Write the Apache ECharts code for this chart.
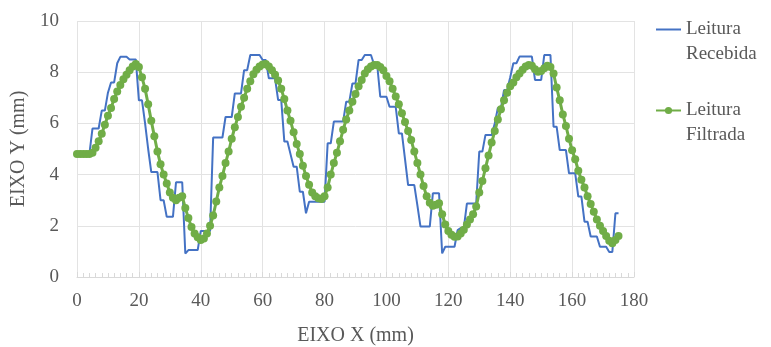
<!DOCTYPE html>
<html>
<head>
<meta charset="utf-8">
<script src="https://cdn.jsdelivr.net/npm/echarts@6/dist/echarts.min.js"></script>
<style>
html,body{margin:0;padding:0;background:#fff;}
#chart{width:771px;height:347px;}
</style>
</head>
<body>
<div id="chart"></div>
<script>
// X positions (mm)
const xValues = Array.from({length: 176}, (_, i) => i);

// Leitura Recebida (mm) at x = 0..175
const recebida = [
  4.8,4.8,4.8,4.8,4.8,5.8,5.8,5.8,6.5,6.5,
  7.2,7.6,7.6,8.35,8.6,8.6,8.6,8.5,8.5,8.5,
  6.9,6.9,6.0,5.0,4.1,4.1,4.1,3.0,3.0,2.35,
  2.35,2.35,3.7,3.7,3.7,0.92,1.05,1.05,1.05,1.05,
  1.8,1.8,1.8,1.8,5.45,5.45,5.45,5.45,6.25,6.25,
  6.25,7.17,7.17,7.17,8.08,8.08,8.67,8.67,8.67,8.67,
  8.48,8.48,7.76,7.76,7.76,6.91,6.91,5.29,5.29,4.8,
  4.31,4.31,3.33,3.33,2.49,2.94,2.94,2.94,2.94,2.94,
  2.94,5.22,5.22,6.07,6.07,6.07,6.07,6.85,6.85,7.56,
  7.56,8.48,8.48,8.67,8.67,8.67,8.3,8.3,7.04,7.04,
  7.04,6.65,6.65,6.65,5.61,5.61,4.6,3.59,3.59,3.59,
  2.8,1.97,1.97,1.97,1.97,3.27,3.27,3.27,0.92,1.18,
  1.18,1.18,1.18,1.83,1.91,1.91,2.87,2.87,2.87,2.87,
  4.9,4.9,5.55,5.55,5.55,6.0,6.6,6.6,7.3,7.3,
  7.8,8.35,8.35,8.61,8.61,8.61,8.61,8.61,7.7,7.7,
  7.7,8.67,8.67,8.67,5.87,5.87,4.96,4.96,4.96,4.05,
  4.05,4.05,3.14,3.14,2.16,2.16,1.58,1.58,1.58,1.18,
  1.18,1.18,0.98,0.98,2.49,2.49
];

// Leitura Filtrada (mm) at x = 0..175
const filtrada = [
  4.8,4.8,4.8,4.8,4.8,4.85,5.05,5.3,5.6,5.95,
  6.3,6.6,6.95,7.25,7.5,7.72,7.9,8.08,8.22,8.32,
  8.2,7.8,7.35,6.75,6.1,5.5,4.9,4.4,4.0,3.65,
  3.3,3.1,3.0,3.1,3.15,2.7,2.3,1.95,1.7,1.55,
  1.45,1.5,1.7,2.0,2.4,2.95,3.5,3.95,4.45,4.9,
  5.4,5.85,6.25,6.65,7.0,7.35,7.65,7.92,8.1,8.22,
  8.3,8.32,8.22,8.08,7.9,7.68,7.35,6.95,6.5,6.1,
  5.65,5.2,4.8,4.35,3.95,3.6,3.3,3.15,3.08,3.05,
  3.15,3.5,4.0,4.45,4.85,5.3,5.75,6.15,6.5,6.85,
  7.15,7.45,7.7,7.95,8.12,8.22,8.28,8.28,8.2,8.08,
  7.85,7.65,7.35,7.05,6.75,6.4,6.05,5.7,5.35,4.9,
  4.45,4.0,3.55,3.15,2.9,2.78,2.82,2.88,2.45,2.05,
  1.8,1.65,1.57,1.58,1.7,1.85,2.05,2.25,2.45,2.75,
  3.3,3.75,4.25,4.75,5.25,5.7,6.15,6.55,6.9,7.2,
  7.45,7.6,7.8,7.95,8.1,8.22,8.28,8.25,8.12,8.02,
  8.05,8.15,8.25,8.2,7.95,7.4,6.9,6.35,5.9,5.4,
  4.95,4.6,4.15,3.8,3.5,3.15,2.85,2.55,2.25,2.0,
  1.8,1.6,1.42,1.32,1.45,1.6
];

const seriesNames = ['Leitura\nRecebida', 'Leitura\nFiltrada'];
const xTitle = 'EIXO X (mm)';
const yTitle = 'EIXO Y (mm)';

const FONT = '"Liberation Serif", "Times New Roman", serif';
const chart = echarts.init(document.getElementById('chart'), null, {renderer: 'canvas'});
chart.setOption({
  animation: false,
  backgroundColor: '#ffffff',
  textStyle: {fontFamily: FONT},
  grid: {left: 77, right: 137, top: 21, bottom: 70, containLabel: false, outerBoundsMode: 'none'},
  legend: {
    orient: 'vertical',
    left: 655,
    top: -8,
    padding: 0,
    itemGap: 6,
    itemWidth: 25,
    itemHeight: 9,
    formatter: n => '\n' + n,
    textStyle: {fontFamily: FONT, fontSize: 19, color: '#595959', lineHeight: 25},
    data: [
      {name: seriesNames[0], icon: 'path://M0,0 L50,0 L50,4 L0,4 Z'},
      {name: seriesNames[1]}
    ]
  },
  xAxis: {
    type: 'value',
    min: 0, max: 180, interval: 20,
    name: xTitle,
    nameLocation: 'middle',
    nameGap: 49,
    nameTextStyle: {fontFamily: FONT, fontSize: 20, color: '#595959'},
    axisLine: {show: true, lineStyle: {color: '#d9d9d9', width: 1}},
    axisTick: {show: true, inside: true, length: 5, lineStyle: {color: '#d9d9d9'}},
    minorTick: {show: true, splitNumber: 10, length: 4, lineStyle: {color: '#d9d9d9'}},
    axisLabel: {fontFamily: FONT, fontSize: 19, color: '#595959', margin: 15},
    splitLine: {show: true, lineStyle: {color: '#e3e3e3', width: 1}}
  },
  yAxis: {
    type: 'value',
    min: 0, max: 10, interval: 2,
    name: yTitle,
    nameLocation: 'middle',
    nameGap: 39,
    nameRotate: 90,
    nameTextStyle: {fontFamily: FONT, fontSize: 20, color: '#595959'},
    axisLine: {show: false},
    axisTick: {show: false},
    axisLabel: {fontFamily: FONT, fontSize: 19, color: '#595959', margin: 18},
    splitLine: {show: true, lineStyle: {color: '#e3e3e3', width: 1}}
  },
  series: [
    {
      name: seriesNames[0],
      type: 'line',
      data: xValues.map((x, i) => [x, recebida[i]]),
      symbol: 'none',
      lineStyle: {color: '#4472C4', width: 2},
      itemStyle: {color: '#4472C4'},
      z: 2
    },
    {
      name: seriesNames[1],
      type: 'line',
      data: xValues.map((x, i) => [x, filtrada[i]]),
      symbol: 'circle',
      symbolSize: 8,
      showAllSymbol: true,
      lineStyle: {color: '#70AD47', width: 3},
      itemStyle: {color: '#70AD47'},
      z: 3
    }
  ]
});
</script>
</body>
</html>
